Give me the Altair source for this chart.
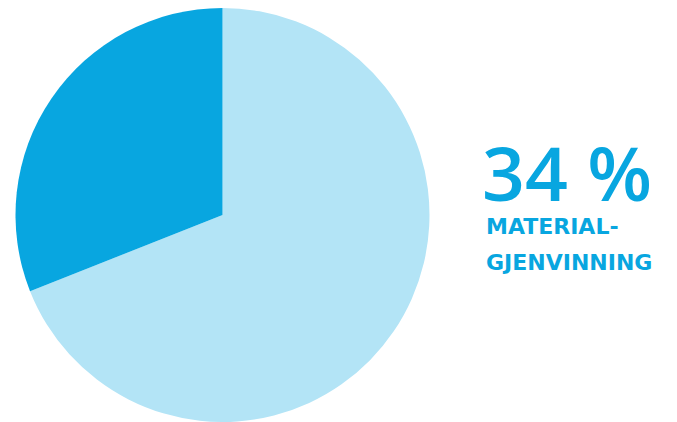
import altair as alt
import pandas as pd

categories = ["Annet", "Materialgjenvinning"]
values = [69, 31]
slice_order = [1, 2]
colors = ["#b3e4f6", "#08a6e0"]

headline = ["34 %"]
caption_1 = ["MATERIAL-"]
caption_2 = ["GJENVINNING"]

df = pd.DataFrame({"category": categories, "value": values, "order": slice_order})

pie = alt.Chart(df).mark_arc(outerRadius=207).encode(
    theta=alt.Theta("value:Q", stack=True),
    color=alt.Color("category:N", scale=alt.Scale(domain=categories, range=colors), legend=None),
    order=alt.Order("order:Q"),
    x=alt.value(214.5),
    y=alt.value(207),
)

big = alt.Chart(pd.DataFrame({"t": headline})).mark_text(
    align="left", baseline="alphabetic", fontSize=75, font="Open Sans", fontWeight=600, color="#08a6e0"
).encode(text="t:N", x=alt.value(474), y=alt.value(193))

cap1 = alt.Chart(pd.DataFrame({"t": caption_1})).mark_text(
    align="left", baseline="alphabetic", fontSize=22, font="DejaVu Sans", fontWeight="bold", color="#08a6e0"
).encode(text="t:N", x=alt.value(478), y=alt.value(226))

cap2 = alt.Chart(pd.DataFrame({"t": caption_2})).mark_text(
    align="left", baseline="alphabetic", fontSize=22, font="DejaVu Sans", fontWeight="bold", color="#08a6e0"
).encode(text="t:N", x=alt.value(478), y=alt.value(262))

chart = alt.layer(pie, big, cap1, cap2).properties(
    width=661, height=414, padding=0, autosize=alt.AutoSizeParams(type="none"), background="white"
).configure_view(stroke=None)

chart.save("out.html", embed_options={"renderer": "svg", "actions": False})
